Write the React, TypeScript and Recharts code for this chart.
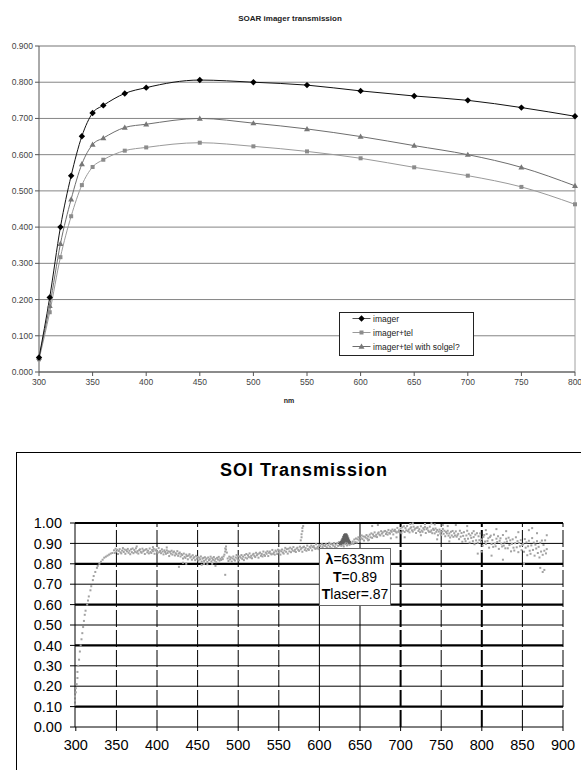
import React from 'react';
import { LineChart, Line, XAxis, YAxis, CartesianGrid, ReferenceLine, ScatterChart, Scatter } from 'recharts';

// ---------- SOAR imager transmission ----------
const soarNm = [300, 310, 320, 330, 340, 350, 360, 380, 400, 450, 500, 550, 600, 650, 700, 750, 800];
const imager = [0.04, 0.206, 0.4, 0.542, 0.651, 0.715, 0.736, 0.769, 0.785, 0.806, 0.8, 0.792, 0.776, 0.762, 0.75, 0.73, 0.706];
const imagerTel = [0.035, 0.165, 0.317, 0.43, 0.516, 0.566, 0.586, 0.611, 0.62, 0.633, 0.623, 0.609, 0.59, 0.565, 0.542, 0.511, 0.463];
const imagerTelSolgel = [0.04, 0.183, 0.354, 0.477, 0.574, 0.628, 0.646, 0.675, 0.684, 0.7, 0.687, 0.671, 0.65, 0.625, 0.6, 0.565, 0.514];
const soarXTicks = [300, 350, 400, 450, 500, 550, 600, 650, 700, 750, 800];
const soarYTicks = [0, 0.1, 0.2, 0.3, 0.4, 0.5, 0.6, 0.7, 0.8, 0.9];
const soarLegend = ['imager', 'imager+tel', 'imager+tel with solgel?'];

// ---------- SOI Transmission (read point by point) ----------
const soiRise: [number, number][] = [
  [299, .11], [299, .13], [299, .15], [300, .17], [300, .19], [301, .21], [302, .24], [302, .27], [303, .3], [304, .33], [305, .37],
  [306, .4], [307, .43], [308, .46], [309, .49], [310, .52], [311, .55], [312, .57], [314, .6], [315, .62], [316, .64], [318, .67],
  [319, .69], [321, .72], [322, .74], [324, .76], [326, .78], [327, .79], [329, .8], [331, .81], [333, .82], [335, .83], [337, .835],
  [339, .84], [341, .845], [343, .85], [345, .853],
];
const soiPlateau: [number, number][] = [
  [347, .866], [348, .853], [349, .874], [350, .86], [351, .869], [352, .848], [353, .863], [354, .872], [355, .856], [356, .851],
  [357, .865], [358, .877], [359, .858], [360, .87], [361, .849], [362, .867], [363, .861], [364, .873], [365, .854], [366, .864],
  [367, .847], [368, .871], [369, .857], [370, .875], [371, .852], [372, .868], [373, .859], [374, .876], [375, .855], [376, .862],
  [377, .85], [378, .867], [379, .871], [380, .859], [381, .854], [382, .874], [383, .861], [384, .866], [385, .848], [386, .869],
  [387, .872], [388, .856], [389, .864], [390, .851], [391, .875], [392, .858], [393, .853], [394, .868], [395, .862], [396, .873],
  [397, .849], [398, .865], [399, .87], [400, .86], [401, .855], [402, .877], [403, .857], [404, .863], [405, .852], [406, .871],
  [407, .86], [408, .846], [409, .866], [410, .858],
  [411, .849], [412, .866], [413, .853], [414, .861], [415, .838], [416, .859], [417, .85], [418, .864], [419, .845], [420, .856],
  [421, .86], [422, .841], [423, .852], [424, .847], [425, .862], [426, .839], [427, .85], [428, .855], [429, .836], [430, .848],
  [431, .843], [432, .826], [433, .85], [434, .834], [435, .829], [436, .845], [437, .838], [438, .822], [439, .84], [440, .847],
  [441, .831], [442, .836], [443, .82], [444, .842], [445, .828], [446, .833], [447, .818], [448, .839], [449, .825], [450, .834],
  [451, .816], [452, .83], [453, .822], [454, .836], [455, .811], [456, .825], [457, .829], [458, .814], [459, .832], [460, .82],
  [461, .826], [462, .809], [463, .831], [464, .818], [465, .823], [466, .835], [467, .812], [468, .827], [469, .82], [470, .833],
  [471, .815], [472, .824], [473, .808], [474, .829], [475, .821], [476, .834], [477, .816], [478, .825], [479, .819], [480, .831],
  [481, .823], [482, .836],
  [427, .785], [455, .795], [472, .79], [412, .88], [375, .885], [395, .882], [432, .805], [436, .8], [458, .8], [462, .798], [468, .8],
];
const soiGreen: [number, number][] = [
  [483, .845], [484, .86], [484, .875], [485, .885], [485, .87], [486, .855], [484, .746],
  [487, .826], [488, .814], [489, .835], [490, .822], [491, .831], [492, .811], [493, .826], [494, .836], [495, .821], [496, .816],
  [497, .831], [498, .843], [499, .825], [500, .837], [501, .817], [502, .836], [503, .83], [504, .843], [505, .824], [506, .835],
  [507, .818], [508, .843], [509, .83], [510, .848], [511, .826], [512, .842], [513, .834], [514, .851], [515, .831], [516, .839],
  [517, .827], [518, .845], [519, .849], [520, .838], [521, .833], [522, .854], [523, .842], [524, .847], [525, .83], [526, .851],
  [527, .855], [528, .839], [529, .848], [530, .836], [531, .86], [532, .844], [533, .839], [534, .855], [535, .849], [536, .861],
  [537, .838], [538, .854], [539, .86], [540, .85], [541, .846], [542, .868], [543, .849], [544, .856], [545, .845], [546, .865],
  [547, .86], [548, .848], [549, .869], [550, .856], [551, .866], [552, .845], [553, .861], [554, .87], [555, .855], [556, .85],
  [557, .865], [558, .878], [559, .859], [560, .872],
  [561, .85], [562, .874], [563, .861], [564, .879], [565, .857], [566, .873], [567, .865], [568, .882], [569, .862], [570, .869],
  [571, .858], [572, .875], [573, .879], [574, .868], [575, .863], [576, .884], [577, .871], [578, .877], [579, .859], [580, .881],
  [581, .884], [582, .868], [583, .877], [584, .864], [585, .889], [586, .872], [587, .868], [588, .883], [589, .878], [590, .889],
  [591, .866], [592, .882], [593, .887], [594, .878], [595, .873], [596, .896], [597, .876], [598, .883], [599, .872], [600, .892],
  [601, .887], [602, .874], [603, .896], [604, .882], [605, .892], [606, .871], [607, .887], [608, .896], [609, .881], [610, .876],
  [611, .891], [612, .903], [613, .884], [614, .897], [615, .876], [616, .895], [617, .889], [618, .902], [619, .883], [620, .894],
  [621, .877], [622, .901], [623, .888], [624, .906],
  [578, .93], [578, .945], [579, .96], [579, .975], [580, .985], [577, .915],
  [625, .891], [626, .903], [627, .888], [628, .899], [629, .894], [630, .885], [631, .9], [632, .896], [633, .905], [634, .89],
  [635, .898], [636, .902], [637, .893], [638, .906], [639, .897], [640, .9],
];
const soiRed: [number, number][] = [
  [641, .909], [642, .897], [643, .919], [644, .906], [645, .924], [646, .904], [647, .92], [648, .93], [649, .915], [650, .911],
  [651, .926], [652, .939], [653, .921], [654, .934], [655, .914], [656, .933], [657, .928], [658, .941], [659, .923], [660, .934],
  [661, .918], [662, .943], [663, .93], [664, .949], [665, .927], [666, .944], [667, .936], [668, .954], [669, .934], [670, .942],
  [671, .931], [672, .949], [673, .954], [674, .943], [675, .939], [676, .96], [677, .948], [678, .954], [679, .937], [680, .959],
  [681, .961], [682, .946], [683, .955], [684, .943], [685, .966], [686, .952], [687, .948], [688, .962], [689, .957], [690, .968],
  [691, .944], [692, .961], [693, .967], [694, .958], [695, .953], [696, .976], [697, .957], [698, .964], [699, .954], [700, .973],
  [665, .985], [672, .99], [688, .925], [695, .93], [660, .915],
  [701, .95], [702, .979], [703, .962], [704, .984], [705, .956], [706, .975], [707, .964], [708, .985], [709, .96], [710, .968],
  [711, .954], [712, .974], [713, .979], [714, .964], [715, .958], [716, .982], [717, .967], [718, .973], [719, .951], [720, .976],
  [721, .98], [722, .961], [723, .97], [724, .955], [725, .984], [726, .963], [727, .957], [728, .975], [729, .968], [730, .981],
  [731, .951], [732, .97], [733, .976], [734, .963], [735, .957], [736, .982], [737, .957], [738, .964], [739, .95], [740, .972],
  [741, .966], [742, .949], [743, .973], [744, .957], [745, .966], [746, .94], [747, .958], [748, .968], [749, .948], [750, .941],
  [751, .958], [752, .971], [753, .947], [754, .962], [755, .935], [756, .956], [757, .949], [758, .962], [759, .938], [760, .949],
  [761, .929], [762, .957], [763, .939], [764, .961], [765, .932], [766, .95], [767, .939], [768, .959], [769, .933], [770, .94],
  [705, .93], [712, .995], [725, .94], [738, .998], [745, .92], [752, .99], [760, .91], [758, .985],
  [715, .998], [730, .995], [742, .993], [768, .99], [782, .985],
];
const soiNearIr: [number, number][] = [
  [771, .947], [772, .921], [773, .962], [774, .933], [775, .951], [776, .908], [777, .937], [778, .955], [779, .922], [780, .911],
  [781, .939], [782, .962], [783, .923], [784, .947], [785, .904], [786, .939], [787, .927], [788, .95], [789, .911], [790, .931],
  [791, .896], [792, .943], [793, .915], [794, .95], [795, .903], [796, .935], [797, .916], [798, .949], [799, .907], [800, .92],
  [801, .889], [802, .932], [803, .941], [804, .909], [805, .897], [806, .946], [807, .912], [808, .925], [809, .879], [810, .931],
  [811, .938], [812, .897], [813, .916], [814, .883], [815, .943], [816, .899], [817, .886], [818, .923], [819, .907], [820, .935],
  [821, .873], [822, .913], [823, .925], [824, .899], [825, .885], [826, .941], [827, .889], [828, .904], [829, .876], [830, .923],
  [831, .909], [832, .876], [833, .928], [834, .892], [835, .915], [836, .861], [837, .898], [838, .92], [839, .879], [840, .865],
  [841, .901], [842, .93], [843, .881], [844, .911], [845, .857], [846, .902], [847, .886], [848, .916], [849, .867], [850, .892],
  [851, .898], [852, .859], [853, .921], [854, .879], [855, .905], [856, .842], [857, .886], [858, .913], [859, .864], [860, .849],
  [861, .89], [862, .926], [863, .868], [864, .904], [865, .84], [866, .894], [867, .875], [868, .911], [869, .853], [870, .883],
  [871, .831], [872, .903], [873, .86], [874, .914], [875, .844], [876, .892], [877, .864], [878, .915], [879, .851], [880, .872],
  [790, .96], [805, .965], [818, .97], [830, .96], [845, .955], [858, .965], [862, .975], [868, .95], [875, .76], [877, .77],
  [872, .78], [880, .94], [795, .85], [812, .84], [800, .86], [826, .82], [852, .8],
];
const soiLaser: [number, number][] = [
  [626, .9], [627, .905], [628, .912], [629, .92], [630, .93], [631, .938], [632, .942], [633, .94], [634, .932], [635, .922],
  [636, .912], [637, .905], [629, .905], [631, .915], [633, .92], [630, .91], [632, .925], [634, .912],
];
const soiXTicks = [300, 350, 400, 450, 500, 550, 600, 650, 700, 750, 800, 850, 900];
const soiYTicks = [0, 0.1, 0.2, 0.3, 0.4, 0.5, 0.6, 0.7, 0.8, 0.9, 1.0];
const soiThickY = [1.0, 0.8, 0.6, 0.4, 0.1];
const soiThickX = [700, 800];
const soiSolidX = [600, 650];

const soarData = soarNm.map((nm, i) => ({ nm, imager: imager[i], tel: imagerTel[i], solgel: imagerTelSolgel[i] }));
const toPts = (arr: [number, number][]) => arr.map(([x, y]) => ({ x, y }));
const soiMain = toPts([...soiRise, ...soiPlateau, ...soiGreen, ...soiRed, ...soiNearIr]);
const soiPeak = toPts(soiLaser);

const FONT = '"Liberation Sans", Arial, sans-serif';

const Diamond = (p: any) => {
  const { cx, cy } = p;
  if (cx == null || cy == null) return <g />;
  return <polygon points={`${cx},${cy - 3.2} ${cx + 3.2},${cy} ${cx},${cy + 3.2} ${cx - 3.2},${cy}`} fill="#000" />;
};
const Square = (p: any) => {
  const { cx, cy } = p;
  if (cx == null || cy == null) return <g />;
  return <rect x={cx - 2} y={cy - 2} width={4} height={4} fill="#8c8c8c" />;
};
const Triangle = (p: any) => {
  const { cx, cy } = p;
  if (cx == null || cy == null) return <g />;
  return <polygon points={`${cx},${cy - 3} ${cx + 3},${cy + 2.2} ${cx - 3},${cy + 2.2}`} fill="#777" />;
};
const GreyDot = (p: any) => <rect x={p.cx - 1} y={p.cy - 1} width={2} height={2} fill="#a2a2a2" />;
const DarkDot = (p: any) => <rect x={p.cx - 1.5} y={p.cy - 1.5} width={3} height={3} fill="#606060" />;

export default function App() {
  const legendY = [318.5, 332.5, 346.5];
  return (
    <div style={{ position: 'absolute', left: 0, top: 0, width: 581, height: 770, overflow: 'hidden', background: '#fff' }}>
      <div style={{ position: 'absolute', left: 0, top: 0 }}>
        <LineChart width={581} height={410} data={soarData} margin={{ top: 46, right: 6, bottom: 18, left: 0 }}>
          <CartesianGrid horizontal vertical={false} stroke="#858585" />
          <XAxis dataKey="nm" type="number" domain={[300, 800]} ticks={soarXTicks} interval={0} tickSize={4} tickMargin={3}
            axisLine={{ stroke: '#555' }} tickLine={{ stroke: '#555' }}
            tick={{ fontSize: 8.5, fill: '#444', fontFamily: FONT }} height={20} />
          <YAxis type="number" domain={[0, 0.9]} ticks={soarYTicks} interval={0} tickSize={4} tickMargin={2} width={39}
            tickFormatter={(v: number) => v.toFixed(3)} axisLine={{ stroke: '#555' }} tickLine={{ stroke: '#555' }}
            tick={{ fontSize: 8.5, fill: '#444', fontFamily: FONT }} />
          <ReferenceLine x={800} stroke="#a0a0a0" />
          <ReferenceLine y={0.9} stroke="#b0b0b0" />
          <Line type="monotone" dataKey="tel" stroke="#9a9a9a" strokeWidth={1} dot={<Square />} isAnimationActive={false} />
          <Line type="monotone" dataKey="solgel" stroke="#6e6e6e" strokeWidth={1} dot={<Triangle />} isAnimationActive={false} />
          <Line type="monotone" dataKey="imager" stroke="#111" strokeWidth={1} dot={<Diamond />} isAnimationActive={false} />
        </LineChart>
      </div>

      <div style={{ position: 'absolute', left: 16, top: 452, width: 600, height: 340, border: '1px solid #000', boxSizing: 'border-box' }} />

      <div style={{ position: 'absolute', left: 0, top: 452 }}>
        <ScatterChart width={581} height={318} margin={{ top: 71, right: 18, bottom: 22, left: 0 }}>
          <XAxis dataKey="x" type="number" domain={[300, 900]} ticks={soiXTicks} interval={0} tickSize={4} tickMargin={9}
            axisLine={{ stroke: '#000' }} tickLine={{ stroke: '#000' }}
            tick={{ fontSize: 14.5, fill: '#000', fontFamily: FONT }} height={21} />
          <YAxis dataKey="y" type="number" domain={[0, 1]} ticks={soiYTicks} interval={0} tickSize={5} tickMargin={8} width={75}
            tickFormatter={(v: number) => v.toFixed(2)} axisLine={{ stroke: '#000' }} tickLine={{ stroke: '#000' }}
            tick={{ fontSize: 14.5, fill: '#000', fontFamily: FONT }} />
          {soiYTicks.filter((v) => v > 0).map((v) => (
            <ReferenceLine key={'h' + v} y={v} stroke="#000" strokeWidth={soiThickY.includes(v) ? 2.2 : 1} />
          ))}
          {soiXTicks.filter((v) => v > 300).map((v) => (
            <ReferenceLine key={'v' + v} x={v} stroke="#000"
              strokeWidth={soiThickX.includes(v) ? 2 : 1}
              strokeDasharray={soiSolidX.includes(v) ? undefined : '17 3'} />
          ))}
          <Scatter data={soiMain} shape={<GreyDot />} isAnimationActive={false} />
          <Scatter data={soiPeak} shape={<DarkDot />} isAnimationActive={false} />
        </ScatterChart>
      </div>

      <svg width={581} height={770} style={{ position: 'absolute', left: 0, top: 0, pointerEvents: 'none' }}>
        <text x={290} y={21} textAnchor="middle" fontFamily={FONT} fontWeight="bold" fontSize={8} fill="#222">SOAR imager transmission</text>
        <text x={289} y={403} textAnchor="middle" fontFamily={FONT} fontWeight="bold" fontSize={7} fill="#222">nm</text>

        <rect x={339.5} y={312.5} width={134} height={43} fill="#fff" stroke="#222" />
        <line x1={352.5} x2={370.5} y1={legendY[0]} y2={legendY[0]} stroke="#555" />
        <line x1={352.5} x2={370.5} y1={legendY[1]} y2={legendY[1]} stroke="#9a9a9a" />
        <line x1={352.5} x2={370.5} y1={legendY[2]} y2={legendY[2]} stroke="#6e6e6e" />
        <Diamond cx={361.5} cy={legendY[0]} />
        <Square cx={361.5} cy={legendY[1]} />
        <Triangle cx={361.5} cy={legendY[2]} />
        {soarLegend.map((t, i) => (
          <text key={t} x={373} y={legendY[i] + 3} fontFamily={FONT} fontSize={8.5} fill="#222">{t}</text>
        ))}

        <text x={304} y={475.5} textAnchor="middle" fontFamily={FONT} fontWeight="bold" fontSize={18} letterSpacing={1} fill="#000">SOI Transmission</text>

        <rect x={319.5} y={548.5} width={71} height={57} fill="#fff" stroke="#666" />
        <text x={355} y={563.5} textAnchor="middle" fontFamily={FONT} fontSize={14} fill="#000"><tspan fontWeight="bold">λ</tspan>=633nm</text>
        <text x={355} y={581.5} textAnchor="middle" fontFamily={FONT} fontSize={14} fill="#000"><tspan fontWeight="bold">T</tspan>=0.89</text>
        <text x={355} y={599} textAnchor="middle" fontFamily={FONT} fontSize={14} fill="#000"><tspan fontWeight="bold">T</tspan>laser=.87</text>
      </svg>
    </div>
  );
}
